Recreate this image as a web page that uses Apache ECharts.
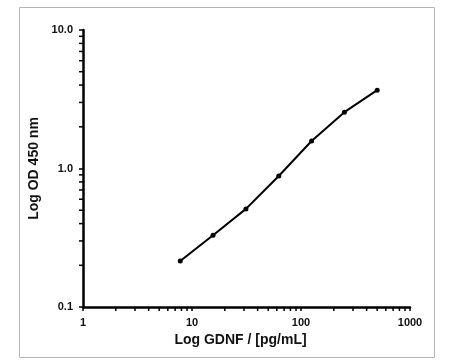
<!DOCTYPE html>
<html>
<head>
<meta charset="utf-8">
<script src="https://cdn.jsdelivr.net/npm/echarts@6/dist/echarts.min.js"></script>
<style>html,body{margin:0;padding:0;background:#fff;}#c{width:450px;height:360px;}</style>
</head>
<body>
<div id="c"></div>
<script>
const concentrations = [7.8, 15.6, 31.25, 62.5, 125, 250, 500];
const odValues = [0.215, 0.330, 0.511, 0.883, 1.58, 2.55, 3.68];
const xMinorTicks = [2,3,4,5,6,7,8,9,20,30,40,50,60,70,80,90,200,300,400,500,600,700,800,900];
const yMinorTicks = [0.2,0.3,0.4,0.5,0.6,0.7,0.8,0.9,2,3,4,5,6,7,8,9];
const xMin = 1, xMax = 1000, yMin = 0.1, yMax = 10;
const xTitle = 'Log GDNF / [pg/mL]';
const yTitle = 'Log OD 450 nm';

const FONT = '"Liberation Sans", Arial, sans-serif';
const chart = echarts.init(document.getElementById('c'), null, {renderer: 'canvas'});

function tickRenderer(dir) {
  return function (params, api) {
    const p = api.coord([api.value(0), api.value(1)]);
    const shape = dir === 'x'
      ? {x1: p[0], y1: p[1], x2: p[0], y2: p[1] + 4}
      : {x1: p[0], y1: p[1], x2: p[0] - 4, y2: p[1]};
    return {type: 'line', shape: shape, style: {stroke: '#000', lineWidth: 1.5}};
  };
}

chart.setOption({
  animation: false,
  backgroundColor: '#fff',
  graphic: [{
    type: 'rect', left: 17, top: 5, z: -10,
    shape: {width: 415, height: 350},
    style: {fill: 'none', stroke: '#b5b5b5', lineWidth: 1}
  }],
  grid: {left: 83, right: 40, top: 30, bottom: 53},
  xAxis: {
    type: 'log', logBase: 10, min: xMin, max: xMax,
    name: xTitle, nameLocation: 'middle', nameGap: 25,
    nameTextStyle: {fontFamily: FONT, fontWeight: 'bold', fontSize: 14, color: '#111', padding: [0, 12, 0, 0]},
    axisLine: {show: true, lineStyle: {color: '#000', width: 2.5}},
    axisTick: {show: true, length: 4, lineStyle: {color: '#000', width: 1.5}},
    axisLabel: {fontFamily: FONT, fontWeight: 'bold', fontSize: 11, color: '#111', margin: 10,
      formatter: function (v) { return String(Math.round(v)); }},
    splitLine: {show: false}
  },
  yAxis: {
    type: 'log', logBase: 10, min: yMin, max: yMax,
    name: yTitle, nameLocation: 'middle', nameGap: 36, nameRotate: 90,
    nameTextStyle: {fontFamily: FONT, fontWeight: 'bold', fontSize: 14, color: '#111'},
    axisLine: {show: true, lineStyle: {color: '#000', width: 2.5}},
    axisTick: {show: true, length: 4, lineStyle: {color: '#000', width: 1.5}},
    axisLabel: {fontFamily: FONT, fontWeight: 'bold', fontSize: 11, color: '#111', margin: 10,
      formatter: function (v) { return Number(v).toFixed(1); }},
    splitLine: {show: false}
  },
  series: [
    {
      type: 'line',
      data: concentrations.map((c, i) => [c, odValues[i]]),
      symbol: 'circle', symbolSize: 5,
      itemStyle: {color: '#000'},
      lineStyle: {color: '#000', width: 2},
      z: 5
    },
    {
      type: 'custom', silent: true, clip: false,
      renderItem: tickRenderer('x'),
      data: xMinorTicks.map(v => [v, yMin]),
      z: 3
    },
    {
      type: 'custom', silent: true, clip: false,
      renderItem: tickRenderer('y'),
      data: yMinorTicks.map(v => [xMin, v]),
      z: 3
    }
  ]
});
</script>
</body>
</html>
